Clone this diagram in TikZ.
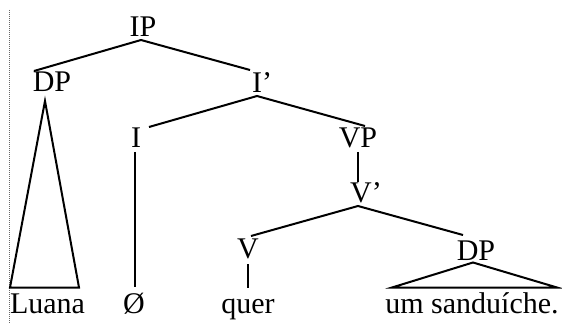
\documentclass[tikz,border=0pt]{standalone}
\usepackage{fontspec}
\setmainfont{Liberation Serif}
\begin{document}
\begin{tikzpicture}[x=1pt,y=-1pt,
  lab/.style={inner sep=0pt,anchor=base,font=\fontsize{30}{31}\selectfont},
  br/.style={line width=2pt,line join=miter}]
\useasboundingbox[fill=white] (0,0) rectangle (562,323);
\draw[gray!80!black,line width=1.4pt,dash pattern=on 1pt off 1pt] (9.5,10) -- (9.5,323);
% labels
\node[lab] (IP) at (143,37) {IP};
\node[lab] (DPa) at (52,92) {DP};
\node[lab] (Ib) at (262,93) {I’};
\node[lab] (I) at (136,148) {I};
\node[lab] (VP) at (358,148) {VP};
\node[lab] (Vb) at (366,203) {V’};
\node[lab] (V) at (248,258) {V};
\node[lab] (DPb) at (476,260) {DP};
\node[lab] (Luana) at (47.5,313) {Luana};
\node[lab] (zero) at (134,313) {Ø};
\node[lab] (quer) at (248,313) {quer};
\node[lab] (sand) at (472,313) {um sanduíche.};
% coordinates
\coordinate (IPb) at (141,40);
\coordinate (DPat) at (34,71);
\coordinate (Ibt) at (250,70);
\coordinate (Ibb) at (257,96);
\coordinate (It) at (149,127);
\coordinate (VPt) at (365,126);
\coordinate (DPaA) at (45,101);
\coordinate (DPaL) at (10,287.5);
\coordinate (DPaR) at (79,287.5);
\coordinate (Ib2) at (135,152);
\coordinate (Ie) at (135,287);
\coordinate (VPb) at (358,152);
\coordinate (Vbt) at (358,182);
\coordinate (Vbb) at (358,206);
\coordinate (Vt) at (251,236);
\coordinate (DPbt) at (463,235);
\coordinate (Vb2) at (248,264);
\coordinate (Ve) at (248,288);
\coordinate (DPbA) at (473,262.5);
\coordinate (DPbL) at (392,287.5);
\coordinate (DPbR) at (557,287.5);
% branches
\draw[br] (DPat) -- (IPb) -- (Ibt);
\draw[br] (It) -- (Ibb) -- (VPt);
\draw[br] (DPaA) -- (DPaL) -- (DPaR) -- cycle;
\draw[br] (Ib2) -- (Ie);
\draw[br] (VPb) -- (Vbt);
\draw[br] (Vt) -- (Vbb) -- (DPbt);
\draw[br] (Vb2) -- (Ve);
\draw[br] (DPbA) -- (DPbL) -- (DPbR) -- cycle;
\end{tikzpicture}
\end{document}
